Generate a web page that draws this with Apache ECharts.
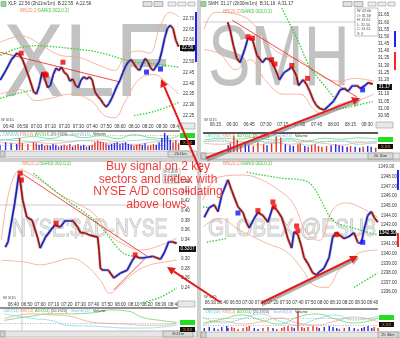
<!DOCTYPE html>
<html><head><meta charset="utf-8">
<script src="https://cdn.jsdelivr.net/npm/echarts@6/dist/echarts.min.js"></script>
<style>html,body{margin:0;padding:0;background:#fff}#c{width:400px;height:338px}</style>
</head><body><div id="c"></div>
<script>
// ================= DATA =================
// --- XLF (top-left) ---
const xlfTimes = ['06:34','06:38','06:42','06:46','06:48','06:50','06:54','06:58','07:00','07:02','07:04','07:06','07:08','07:10','07:12','07:14','07:16','07:18','07:20','07:22','07:24','07:26','07:28','07:30','07:32','07:34','07:36','07:38','07:40','07:42','07:44','07:46','07:48','07:50','07:52','07:54','07:56','07:58','08:00','08:02','08:04','08:06','08:08','08:10','08:12','08:14','08:16','08:18','08:20','08:22','08:24','08:26','08:28','08:30','08:32','08:34','08:36','08:38','08:40','08:42'];
const xlfPrices = [22.415,22.46,22.51,22.54,22.53,22.51,22.44,22.36,22.35,22.39,22.45,22.42,22.38,22.39,22.44,22.47,22.46,22.475,22.45,22.44,22.41,22.42,22.39,22.38,22.415,22.43,22.42,22.43,22.415,22.36,22.34,22.325,22.305,22.29,22.305,22.33,22.36,22.39,22.415,22.45,22.48,22.50,22.51,22.49,22.47,22.46,22.49,22.515,22.50,22.47,22.46,22.48,22.50,22.55,22.61,22.655,22.67,22.655,22.60,22.57];
const xlfVolume = [30,45,40,35,70,40,35,45,40,30,35,25,30,25,35,30,20,25,30,25,35,20,30,35,25,30,20,25,30,45,55,50,45,40,30,35,40,45,35,40,45,35,30,25,30,35,30,40,25,30,35,30,45,70,100,85,60,45,55,40];
const xlfBBUpper = [['06:34',22.59],['06:49',22.62],['07:03',22.58],['07:17',22.53],['07:31',22.52],['07:46',22.48],['07:56',22.46],['08:04',22.53],['08:14',22.55],['08:21',22.54],['08:29',22.67],['08:36',22.73],['08:42',22.71]];
const xlfBBLower = [['06:34',22.35],['06:49',22.37],['06:59',22.32],['07:10',22.33],['07:24',22.35],['07:39',22.32],['07:49',22.25],['07:56',22.24],['08:04',22.32],['08:14',22.42],['08:25',22.44],['08:32',22.41],['08:42',22.35]];
const xlfSarHigh = [['06:34',22.53],['06:45',22.56],['06:59',22.575],['07:20',22.565],['07:44',22.545],['08:09',22.50],['08:25',22.49],['08:42',22.475]];
const xlfSarLowA = [['06:34',22.33],['06:45',22.35],['06:58',22.37]];
const xlfSarLowB = [['08:10',22.25],['08:25',22.27],['08:42',22.31]];
const xlfSell = [['06:49',22.54],['07:06',22.443],['07:07',22.438],['07:19',22.498]];
const xlfBuy = [['08:19',22.452],['08:29',22.466]];
const xlfTrend = [['06:34',22.544],['08:00',22.406]];
const xlfXTicks = ['06:40','06:50','07:00','07:10','07:20','07:30','07:40','07:50','08:00','08:10','08:20','08:30','08:40'];
const xlfYTicks = [22.25,22.30,22.35,22.40,22.45,22.50,22.55,22.60,22.65,22.70];
const xlfOscTimes = ['06:34','06:46','06:58','07:10','07:22','07:34','07:46','07:58','08:10','08:22','08:34','08:42'];
const xlfOscGreen = [56,67,78,67,89,72,83,67,89,72,67,83];
const xlfOscSalmon = [44,39,44,39,44,56,44,39,33,44,56,50];
const xlfOscCyan = [60,55,50,58,52,55,60,50,55,60,52,58];

// --- SMH (top-right) ---
const smhTimes = ['06:26','06:28','06:31','06:34','06:37','06:41','06:44','06:48','06:52','06:57','07:00','07:04','07:08','07:12','07:16','07:20','07:23','07:27','07:29','07:33','07:36','07:39','07:42','07:45','07:48','07:52','07:56','08:00','08:03','08:06','08:10','08:13','08:17','08:21','08:24','08:28','08:31','08:35'];
const smhPrices = [31.60,31.55,31.44,31.35,31.32,31.41,31.49,31.48,31.37,31.32,31.35,31.34,31.28,31.20,31.25,31.27,31.29,31.23,31.16,31.20,31.17,31.12,31.06,31.02,31.00,30.99,31.02,31.05,31.09,31.13,31.14,31.12,31.16,31.16,31.14,31.16,31.18,31.17];
const smhVolume = [40,50,95,70,45,50,40,35,55,45,40,50,90,85,45,40,35,45,50,35,30,40,45,35,30,35,40,45,40,35,30,35,30,25,30,35,30,25];
const smhBBUpper = [['06:05',31.55],['06:15',31.67],['06:37',31.65],['06:50',31.58],['07:03',31.44],['07:16',31.37],['07:30',31.34],['07:48',31.23],['08:05',31.19],['08:19',31.21],['08:36',31.19]];
const smhBBLower = [['06:05',31.41],['06:19',31.38],['06:33',31.27],['06:46',31.34],['06:59',31.20],['07:16',31.10],['07:30',31.10],['07:43',30.99],['07:52',30.96],['08:05',31.03],['08:23',31.06],['08:36',31.10]];
const smhSarHigh = [['07:14',31.70],['07:28',31.48],['07:39',31.29],['07:54',31.14],['08:00',31.08]];
const smhSarLow = [['08:00',30.99],['08:14',31.01],['08:35',31.05]];
const smhSell = [['06:44',31.50],['06:48',31.49],['07:05',31.34],['07:08',31.31],['07:23',31.30],['07:37',31.21]];
const smhBuy = [['08:26',31.13]];
const smhTrend = [['06:30',31.615],['08:21',31.08]];
const smhXTicks = ['06:15','06:30','06:45','07:00','07:15','07:30','07:45','08:00','08:15','08:30'];
const smhYTicks = [30.95,31.00,31.05,31.10,31.15,31.20,31.25,31.30,31.35,31.40,31.45,31.50,31.55,31.60,31.65];
const smhOscTimes = ['06:05','06:20','06:35','06:50','07:05','07:20','07:35','07:50','08:05','08:20','08:36'];
const smhOscGreen = [70,80,75,85,70,78,65,80,75,82,78];
const smhOscSalmon = [50,45,60,40,55,45,60,50,40,55,50];
const smhOscCyan = [60,70,45,65,50,70,40,60,65,45,60];

// --- NYSE:$AD-NYSE (bottom-left) ---
const nyseTimes = ['06:34','06:36','06:41','06:44','06:45','06:47','06:50','06:54','06:58','07:00','07:04','07:08','07:11','07:15','07:19','07:24','07:28','07:30','07:34','07:37','07:43','07:44','07:45','07:47','07:51','07:55','08:00','08:05','08:09','08:11','08:15','08:20','08:24','08:30','08:33','08:36','08:39','08:42'];
const nyseValues = [0.324,0.335,0.416,0.474,0.464,0.422,0.387,0.380,0.345,0.322,0.345,0.360,0.370,0.366,0.380,0.380,0.366,0.355,0.353,0.349,0.345,0.318,0.280,0.276,0.276,0.260,0.270,0.276,0.297,0.305,0.301,0.303,0.305,0.299,0.314,0.335,0.335,0.332];
const nyseBBUpper = [['06:31',0.339],['06:45',0.485],['07:00',0.464],['07:15',0.433],['07:30',0.412],['07:41',0.391],['07:52',0.349],['08:04',0.328],['08:15',0.318],['08:30',0.328],['08:42',0.343]];
const nyseBBLower = [['06:31',0.297],['06:49',0.293],['07:00',0.287],['07:11',0.293],['07:23',0.301],['07:34',0.287],['07:45',0.255],['07:52',0.228],['08:00',0.245],['08:11',0.272],['08:22',0.287],['08:33',0.293],['08:42',0.297]];
const nyseSarHigh = [['06:55',0.478],['07:15',0.433],['07:43',0.374],['08:02',0.312],['08:17',0.303]];
const nyseSarLow = [['08:15',0.207],['08:30',0.220],['08:42',0.239]];
const nyseSell = [['06:45',0.478],['06:46',0.464],['07:12',0.374],['08:11',0.308]];
const nyseTrend = [['06:45',0.480],['08:20',0.305]];
const nyseTrend2 = [['07:55',0.235],['08:20',0.305]];
const nyseXTicks = ['06:40','06:50','07:00','07:10','07:20','07:30','07:40','07:50','08:00','08:10','08:20','08:30','08:40'];
const nyseYTicks = [0.24,0.26,0.28,0.30,0.32,0.34,0.36,0.38,0.40,0.42,0.44,0.46];
const nyseOscTimes = ['06:33','06:55','07:08','07:20','07:40','07:52','08:05','08:17','08:30','08:42'];
const nyseOscGreen = [48,71,81,81,86,100,95,62,48,38];
const nyseOscSalmon = [57,81,76,71,38,33,29,24,24,33];
const nyseOscCyan = [81,57,48,24,19,14,10,10,14,24];

// --- GLOBEX @ESU8 (bottom-right) ---
const esuTimes = ['06:25','06:29','06:33','06:36','06:39','06:43','06:44','06:47','06:49','06:52','06:56','06:59','07:01','07:05','07:08','07:12','07:16','07:20','07:23','07:27','07:29','07:32','07:35','07:37','07:40','07:43','07:45','07:48','07:52','07:55','07:57','08:01','08:05','08:08','08:11','08:13','08:17','08:21','08:25','08:28','08:31','08:33','08:36','08:39','08:41','08:44'];
const esuPrices = [1343.8,1344.8,1345.1,1344.4,1346.1,1347.4,1347.7,1346.6,1345.9,1344.9,1344.3,1343.2,1342.7,1343.7,1344.3,1344.0,1343.3,1344.9,1344.6,1343.8,1343.0,1341.6,1340.6,1342.3,1342.0,1340.7,1339.6,1339.0,1338.0,1337.8,1338.1,1338.5,1339.6,1341.8,1342.2,1342.0,1341.6,1341.8,1342.2,1341.2,1341.2,1342.5,1344.0,1344.4,1343.8,1343.3];
const esuVolume = [15,20,15,10,20,25,15,20,15,10,15,20,25,15,10,15,20,15,10,15,20,25,20,15,100,20,15,20,25,20,15,20,25,20,15,10,15,20,15,10,15,20,25,15,20,15];
const esuBBUpper = [['06:24',1345.6],['06:37',1348.0],['06:57',1348.2],['07:11',1347.7],['07:25',1346.6],['07:36',1345.3],['07:47',1342.2],['07:57',1341.4],['08:08',1344.6],['08:19',1345.3],['08:29',1344.9],['08:44',1343.8]];
const esuBBLower = [['06:24',1342.8],['06:37',1343.7],['06:53',1342.5],['07:15',1341.1],['07:31',1340.2],['07:44',1338.3],['07:52',1336.8],['08:03',1336.5],['08:13',1338.3],['08:21',1339.1],['08:29',1340.1],['08:44',1340.4]];
const esuSarHigh = [['06:59',1348.5],['07:25',1347.9],['07:49',1347.4],['08:08',1343.5],['08:24',1342.7],['08:43',1342.0]];
const esuSarLeft = [['06:24',1344.9],['06:29',1344.8]];
const esuSarLowA = [['06:27',1341.2],['06:43',1341.6]];
const esuSarLowB = [['08:25',1336.5],['08:44',1338.0]];
const esuSell = [['07:08',1344.5],['07:20',1345.4],['07:21',1344.9],['07:39',1342.9],['07:40',1342.4],['08:11',1342.0]];
const esuBuy = [['06:52',1344.25],['08:32',1341.2]];
const esuXTicks = ['06:30','06:40','06:50','07:00','07:10','07:20','07:30','07:40','07:50','08:00','08:10','08:20','08:30','08:40'];
const esuYTicks = [1336,1337,1338,1339,1340,1341,1342,1343,1344,1345,1346,1347,1348];
const esuOscTimes = ['06:24','06:40','06:55','07:10','07:25','07:40','07:55','08:10','08:25','08:44'];
const esuOscGreen = [40,60,80,55,35,70,85,60,40,65];
const esuOscCyan = [70,40,60,85,50,30,60,80,55,75];
const esuOscSalmon = [30,50,35,45,65,40,30,50,70,45];

// ================= BUILD =================
const BLUE='#1e1ec0', RED='#a80e0e', BB='#f5a28a', SAR='#2fd02f';
const FONT='Liberation Sans';
const toMin = s => { const a=s.split(':'); return (+a[0])*60 + (+a[1]); };
const fmtT = v => { const h=Math.floor(v/60), m=Math.round(v-h*60); return String(h).padStart(2,'0')+':'+String(m).padStart(2,'0'); };
const pairs = arr => arr.map(d => [toMin(d[0]), d[1]]);

const panels = [
  { t:xlfTimes, p:xlfPrices, vol:xlfVolume, bbU:xlfBBUpper, bbL:xlfBBLower, sar:[xlfSarHigh,xlfSarLowA,xlfSarLowB],
    sell:xlfSell, buy:xlfBuy, trends:[xlfTrend], xt:xlfXTicks, yt:xlfYTicks, dec:2,
    osc:[xlfOscTimes,[[xlfOscGreen,'#6ad66a'],[xlfOscSalmon,'#f3a88e'],[xlfOscCyan,'#7fdcea']]], dotted:[85,30],
    g:{left:0,top:8,width:180,height:114}, gi:{left:0,top:132,width:180,height:18}, x:['06:34','08:43'], y:[22.22,22.75] },
  { t:smhTimes, p:smhPrices, vol:smhVolume, bbU:smhBBUpper, bbL:smhBBLower, sar:[smhSarHigh,smhSarLow],
    sell:smhSell, buy:smhBuy, trends:[smhTrend], xt:smhXTicks, yt:smhYTicks, dec:2,
    osc:[smhOscTimes,[[smhOscGreen,'#6ad66a'],[smhOscSalmon,'#f3a88e'],[smhOscCyan,'#7fdcea']]], dotted:[60],
    g:{left:203,top:8,width:172,height:112}, gi:{left:203,top:134,width:175,height:18}, x:['06:04','08:37'], y:[30.92,31.70] },
  { t:nyseTimes, p:nyseValues, vol:null, bbU:nyseBBUpper, bbL:nyseBBLower, sar:[nyseSarHigh,nyseSarLow],
    sell:nyseSell, buy:[], trends:[nyseTrend,nyseTrend2], xt:nyseXTicks, yt:nyseYTicks, dec:2,
    osc:[nyseOscTimes,[[nyseOscGreen,'#6ad66a'],[nyseOscSalmon,'#f3a88e'],[nyseOscCyan,'#7fdcea']]], dotted:[33],
    g:{left:0,top:168,width:178,height:132}, gi:{left:0,top:309,width:178,height:21}, x:['06:30','08:43'], y:[0.214,0.489] },
  { t:esuTimes, p:esuPrices, vol:esuVolume, bbU:esuBBUpper, bbL:esuBBLower, sar:[esuSarHigh,esuSarLeft,esuSarLowA,esuSarLowB],
    sell:esuSell, buy:esuBuy, trends:[], xt:esuXTicks, yt:esuYTicks, dec:2,
    osc:[esuOscTimes,[[esuOscGreen,'#6ad66a'],[esuOscCyan,'#7fdcea'],[esuOscSalmon,'#f3a88e']]], dotted:[62,30],
    g:{left:203,top:172,width:175,height:126}, gi:{left:203,top:310,width:175,height:21}, x:['06:24','08:44'], y:[1335.4,1348.52] }
];

const grids=[], xAxes=[], yAxes=[], series=[];
panels.forEach(c => {
  const gi = grids.length;
  grids.push(c.g, c.gi);
  const xmin=toMin(c.x[0]), xmax=toMin(c.x[1]);
  const lab = {fontSize:4.5, color:'#333', fontFamily:FONT};
  xAxes.push({gridIndex:gi, type:'value', min:xmin, max:xmax, axisLine:{show:false}, axisTick:{show:false}, splitLine:{show:false},
    axisLabel:Object.assign({customValues:c.xt.map(toMin), formatter:fmtT, margin:2, hideOverlap:false}, lab)});
  yAxes.push({gridIndex:gi, type:'value', position:'right', min:c.y[0], max:c.y[1], axisLine:{show:false}, axisTick:{show:false}, splitLine:{show:false},
    axisLabel:Object.assign({customValues:c.yt, formatter:v=>v.toFixed(c.dec), margin:3}, lab)});
  xAxes.push({gridIndex:gi+1, type:'value', min:xmin, max:xmax, show:false});
  yAxes.push({gridIndex:gi+1, type:'value', min:0, max:105, show:false});
  const xi=gi, yi=gi;
  const base = {xAxisIndex:xi, yAxisIndex:yi, silent:true, animation:false};
  [c.bbU, c.bbL].forEach(b => series.push(Object.assign({type:'line', data:pairs(b), smooth:0.4, symbol:'none', lineStyle:{color:BB, width:0.8}, z:2, clip:false}, base)));
  c.sar.forEach(s => series.push(Object.assign({type:'line', data:pairs(s), smooth:0.3, symbol:'none', lineStyle:{color:SAR, width:1.3, type:[1.5,1.5]}, z:2, clip:false}, base)));
  c.trends.forEach(tr => series.push(Object.assign({type:'line', data:pairs(tr), symbol:'none', lineStyle:{color:'#e82020', width:0.8}, z:3}, base)));
  const pts = c.t.map((t,k)=>[toMin(t), c.p[k]]);
  series.push(Object.assign({type:'line', data:pts, symbol:'none', lineStyle:{color:'#9c9c9c', width:3.2, opacity:0.5}, z:3}, base));
  const segs=[];
  for(let k=0;k<pts.length-1;k++) segs.push({coords:[pts[k],pts[k+1]], lineStyle:{color: c.p[k+1]>=c.p[k]?BLUE:RED}});
  series.push(Object.assign({type:'lines', coordinateSystem:'cartesian2d', data:segs, lineStyle:{width:1.7, opacity:1}, z:4}, base));
  series.push(Object.assign({type:'scatter', data:pairs(c.sell), symbol:'rect', symbolSize:5, itemStyle:{color:'#f00000'}, z:5}, base));
  if(c.buy.length) series.push(Object.assign({type:'scatter', data:pairs(c.buy), symbol:'rect', symbolSize:5, itemStyle:{color:'#1010ff'}, z:5}, base));
  const ib = {xAxisIndex:gi+1, yAxisIndex:gi+1, silent:true, animation:false};
  if(c.vol){
    series.push(Object.assign({type:'bar', barWidth:1.4, data:c.vol.map((v,k)=>({value:[toMin(c.t[k]),v], itemStyle:{color:(k===0||c.p[k]>=c.p[k-1])?'#2828e6':'#e83030'}})), z:3}, ib));
  }
  const ot = c.osc[0].map(toMin);
  c.osc[1].forEach(([vals,col]) => series.push(Object.assign({type:'line', data:vals.map((v,k)=>[ot[k],v]), smooth:0.5, symbol:'none', lineStyle:{color:col, width:0.8}, z:2}, ib)));
  series.push(Object.assign({type:'line', data:[], markLine:{silent:true, symbol:'none', label:{show:false}, lineStyle:{color:'#888', width:0.6, type:[1,1.5]}, data:c.dotted.map(v=>({yAxis:v}))}}, ib));
});

// ================= GRAPHICS (chrome + annotations) =================
const G=[];
const rect=(x,y,w,h,fill,stroke,z)=>G.push({type:'rect', shape:{x,y,width:w,height:h}, style:{fill:fill||'none', stroke:stroke||null, lineWidth:0.6}, z:z||1, silent:true});
const txt=(x,y,s,size,col,extra)=>G.push(Object.assign({type:'text', x, y, style:Object.assign({text:s, fontSize:size, fill:col, fontFamily:FONT, verticalAlign:'middle'}, extra&&extra.style||{}), z:(extra&&extra.z)||6, silent:true}, extra&&extra.el||{}));
const hline=(x1,y,x2,col,w,z)=>G.push({type:'line', shape:{x1,y1:y,x2,y2:y}, style:{stroke:col, lineWidth:w||1}, z:z||1, silent:true});
const vline=(x,y1,y2,col,w,z)=>G.push({type:'line', shape:{x1:x,y1,x2:x,y2}, style:{stroke:col, lineWidth:w||1}, z:z||1, silent:true});

const wm=(x,y,s,size,sx,fill,stroke)=>G.push({type:'text', x, y, scaleX:sx, style:{text:s, fontSize:size, fontFamily:FONT, fill, stroke:stroke||null, lineWidth:0.8, verticalAlign:'middle'}, z:0, silent:true});
wm(3,67,'XLF',104,0.88,'rgba(165,165,165,0.68)');
wm(208,62,'SMH',85,0.75,'rgba(165,165,165,0.68)');
wm(12,229,'NYSE:$AD-NYSE',24,0.81,'rgba(225,225,225,0.8)','#b4b4b4');
wm(208,230,'GLOBEX @ESU8',23,0.91,'rgba(225,225,225,0.8)','#b4b4b4');

rect(197,0,4,338,'#d0d0d0',null,1);
rect(0,158,400,4,'#d0d0d0',null,1);
hline(0,131,180,'#222',1.2); hline(203,133,378,'#222',1.5);
hline(0,308,178,'#222',1.2); hline(203,309,378,'#222',1.2);
hline(203,22,375,'#a8a8a8',0.6); vline(22,168,330,'#a8a8a8',0.6); hline(0,205,178,'#a8a8a8',0.6);

const titles=[[0,4,'XLF: 22.56 (2h11m/1m)  B:22.55  A:22.56'],[200,4,'SMH: 31.17 (2h30m/1m)  B:31.16  A:31.17']];
titles.forEach(([x,y,s])=>{ rect(x+1,y-2.5,5,5,'#9bd29b','#6a6',3); txt(x+8,y,s,4.5,'#333'); });
[[0],[200]].forEach(([ox])=>{ rect(ox+143,1.5,9,5,'#e0e0e0','#888',3); rect(ox+154,1.5,9,5,'#e0e0e0','#888',3); rect(ox+168,2,8,4,'#eee','#999',3); rect(ox+178,2,8,4,'#eee','#999',3); rect(ox+188,2,7,4,'#eee','#999',3); });
[[20,11],[223,12],[22,164],[223,164]].forEach(([x,y])=>{ txt(x,y,'BB(20,2)',4.5,'#f09070'); txt(x+18,y,'SAR(0.002,0.2)',4.5,'#40c040'); });
txt(378,167,'1349.00',4.5,'#444');
[[3,134],[205,136],[3,311],[205,312]].forEach(([x,y])=>{ txt(x,y,'CMO(14)',3.8,'#5cc8d8'); txt(x+17,y,'RSI(14)',3.8,'#f09070'); txt(x+32,y,'ADX(14)',3.8,'#40c040'); txt(x+48,y,'[20.1920]',3.8,'#555'); txt(x+68,y,'StochK(14)',3.8,'#8ab0f0'); txt(x+90,y,'Volume',3.8,'#333'); });
txt(1,120,'W 0/15',4,'#444'); txt(204,120,'W 5/15',4,'#444'); txt(3,298,'W 5/15',4,'#444'); txt(204,297,'W 5/15',4,'#444');
const vbox=(x,y,w,s)=>{ rect(x,y,w,6,'#111',null,6); txt(x+w/2,y+3,s,4.6,'#fff',{style:{align:'center'},z:7}); };
vbox(180,45,15,'22.56'); vbox(377,84,15,'31.17'); vbox(179,246,17,'0.3207'); vbox(379,230,17,'1342.50');
const ibox=(x,y)=>{ rect(x,y,15,5,'#22dd22',null,6); rect(x,y+7,15,5,'#111',null,6); txt(x+7.5,y+9.5,'X.XX',4,'#f0a030',{style:{align:'center'},z:7}); };
ibox(180,133); ibox(378,137); ibox(180,320); ibox(379,315);
rect(179,123,16,6,'#e8e8e8','#999',3); rect(376,122,17,6,'#e8e8e8','#999',3); rect(178,301,17,6,'#e8e8e8','#999',3);
const sb=(x,y,w,bx,bw,s)=>{ rect(x,y,w,6,'#e6e6e6','#a0a0a0',3); rect(x,y,5,6,'#d0d0d0','#888',3); rect(bx,y,bw,6,'#d8d8d8','#888',4); txt(bx+bw/2,y+3,s,4,'#333',{style:{align:'center'},z:7}); };
sb(0,151,197,168,25,'2h11m'); sb(201,153,199,368,25,'2h 30m'); sb(0,331,197,163,30,'2h11m'); sb(201,332,199,378,20,'2h 30m');
rect(355,8,23,28,'#fff','#999',6);
['W: 02:00','O: 31.58','H: 31.61','L: 31.50','C: 31.61','V: 0'].forEach((s,k)=>txt(357,11+k*4.5,s,3.6,'#444',{z:7}));
rect(163,169,17,14,'#fff','#999',6);
['W: 0.4539','O: 0.4539','L: 0.4539'].forEach((s,k)=>txt(164,172+k*4,s,3,'#444',{z:7}));
rect(195,12,2,50,'#2020ff',null,2); rect(394,31,2,16,'#2020ff',null,2); rect(394,52,2,18,'#ff2020',null,2);
rect(397,170,2,20,'#2020ff',null,2); rect(397,233,2,14,'#ff2020',null,2);

function arrow(x1,y1,x2,y2,shadow){
  const ang=Math.atan2(y2-y1,x2-x1), L=8, W=4;
  const bx=x2-L*Math.cos(ang), by=y2-L*Math.sin(ang);
  const px=-Math.sin(ang)*W, py=Math.cos(ang)*W;
  const pts=[[x2,y2],[bx+px,by+py],[bx-px,by-py]];
  if(shadow){
    G.push({type:'line', shape:{x1:x1+1,y1:y1+2,x2:bx+1,y2:by+2}, style:{stroke:'rgba(110,110,110,0.55)', lineWidth:3}, z:98, silent:true});
    G.push({type:'polygon', shape:{points:pts.map(p=>[p[0]+1,p[1]+2])}, style:{fill:'rgba(110,110,110,0.55)'}, z:98, silent:true});
  }
  G.push({type:'line', shape:{x1,y1,x2:bx,y2:by}, style:{stroke:'#e41b1b', lineWidth:2}, z:100, silent:true});
  G.push({type:'polygon', shape:{points:pts}, style:{fill:'#e41b1b'}, z:100, silent:true});
}
arrow(201,172,161,79,false);
arrow(206,158,360,98,true);
arrow(220,302,167,267,false);
arrow(261,303,358,256,true);

['Buy signal on 2 key','sectors and index with','NYSE A/D consolidating','above lows.'].forEach((s,k)=>
  G.push({type:'text', x:158, y:167+k*12.4, style:{text:s, fontSize:12, fontFamily:FONT, fill:'#f03a3a', align:'center', verticalAlign:'middle'}, z:101, silent:true}));

const chart = echarts.init(document.getElementById('c'), null, {renderer:'canvas'});
chart.setOption({animation:false, backgroundColor:'#fff', grid:grids, xAxis:xAxes, yAxis:yAxes, series, graphic:{elements:G}});
</script></body></html>
